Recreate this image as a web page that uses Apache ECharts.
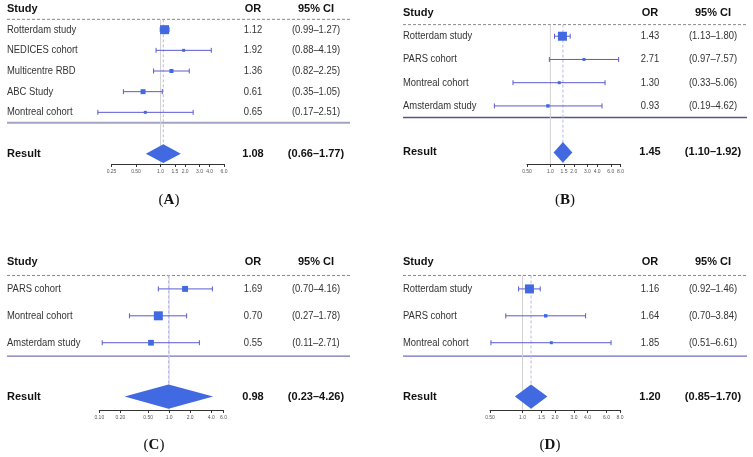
<!DOCTYPE html>
<html><head><meta charset="utf-8">
<script src="https://cdn.jsdelivr.net/npm/echarts@6/dist/echarts.min.js"></script>
<style>html,body{margin:0;padding:0;background:#fff}#c{width:753px;height:457px}</style>
</head><body><div id="c"></div>
<script>
// ---- Panel A ----
const studiesA = ['Rotterdam study','NEDICES cohort','Multicentre RBD','ABC Study','Montreal cohort'];
const orA = [1.12, 1.92, 1.36, 0.61, 0.65];
const lowA = [0.99, 0.88, 0.82, 0.35, 0.17];
const highA = [1.27, 4.19, 2.25, 1.05, 2.51];
const weightA = [1, 0.33, 0.45, 0.55, 0.33];
const pooledA = [1.08, 0.66, 1.77];
const ticksA = [0.25, 0.5, 1, 1.5, 2, 3, 4, 6];
const tickLabelsA = ['0.25','0.50','1.0','1.5','2.0','3.0','4.0','6.0'];
// ---- Panel B ----
const studiesB = ['Rotterdam study','PARS cohort','Montreal cohort','Amsterdam study'];
const orB = [1.43, 2.71, 1.30, 0.93];
const lowB = [1.13, 0.97, 0.33, 0.19];
const highB = [1.80, 7.57, 5.06, 4.62];
const weightB = [1, 0.33, 0.33, 0.38];
const pooledB = [1.45, 1.10, 1.92];
const ticksB = [0.5, 1, 1.5, 2, 3, 4, 6, 8];
const tickLabelsB = ['0.50','1.0','1.5','2.0','3.0','4.0','6.0','8.0'];
// ---- Panel C ----
const studiesC = ['PARS cohort','Montreal cohort','Amsterdam study'];
const orC = [1.69, 0.70, 0.55];
const lowC = [0.70, 0.27, 0.11];
const highC = [4.16, 1.78, 2.71];
const weightC = [0.66, 1, 0.64];
const pooledC = [0.98, 0.23, 4.26];
const ticksC = [0.1, 0.2, 0.5, 1, 2, 4, 6];
const tickLabelsC = ['0.10','0.20','0.50','1.0','2.0','4.0','6.0'];
// ---- Panel D ----
const studiesD = ['Rotterdam study','PARS cohort','Montreal cohort'];
const orD = [1.16, 1.64, 1.85];
const lowD = [0.92, 0.70, 0.51];
const highD = [1.46, 3.84, 6.61];
const weightD = [1, 0.38, 0.33];
const pooledD = [1.20, 0.85, 1.70];
const ticksD = [0.5, 1, 1.5, 2, 3, 4, 6, 8];
const tickLabelsD = ['0.50','1.0','1.5','2.0','3.0','4.0','6.0','8.0'];

const panelLabels = ['A','B','C','D'];

const panels = [
  {studies:studiesA, or:orA, low:lowA, high:highA, w:weightA, pooled:pooledA, ticks:ticksA, tl:tickLabelsA,
   textL:7, orX:253, ciX:316, lineR:350, axL:111.5, axR:224, top:9, axY:164, labX:169, labY:200, bl:{c:'#a3a3c4', w:2}},
  {studies:studiesB, or:orB, low:lowB, high:highB, w:weightB, pooled:pooledB, ticks:ticksB, tl:tickLabelsB,
   textL:403, orX:650, ciX:713, lineR:747, axL:527, axR:620.5, top:13, axY:164, labX:565, labY:200, bl:{c:'#55558a', w:1.5}},
  {studies:studiesC, or:orC, low:lowC, high:highC, w:weightC, pooled:pooledC, ticks:ticksC, tl:tickLabelsC,
   textL:7, orX:253, ciX:316, lineR:350, axL:99.3, axR:223.5, top:262, axY:410, labX:154, labY:445, bl:{c:'#7272b4', w:1.3}},
  {studies:studiesD, or:orD, low:lowD, high:highD, w:weightD, pooled:pooledD, ticks:ticksD, tl:tickLabelsD,
   textL:403, orX:650, ciX:713, lineR:747, axL:490, axR:620, top:262, axY:410, labX:550, labY:445, bl:{c:'#6c6cc8', w:1.3}}
];

const BLUE = '#4169E1';
const CI_COLOR = '#5a5ad2';
const chart = echarts.init(document.getElementById('c'), null, {renderer:'canvas'});

const grids = [], xAxes = [], yAxes = [], series = [];
panels.forEach((p, i) => {
  const n = p.studies.length;
  const yMax = n + 1.5;
  grids.push({left:p.axL, top:p.top, width:p.axR - p.axL, height:p.axY - p.top, outerBoundsMode:'none', containLabel:false});
  const near = v => { let b = 0, d = Infinity; p.ticks.forEach((t, k) => { const dd = Math.abs(Math.log(t) - Math.log(v)); if (dd < d) { d = dd; b = k; } }); return p.tl[b]; };
  xAxes.push({type:'log', logBase:10, gridIndex:i, position:'bottom', min:p.ticks[0], max:p.ticks[p.ticks.length-1],
    axisLine:{show:true, onZero:false, lineStyle:{color:'#333', width:1}},
    axisTick:{show:true, length:3, customValues:p.ticks, lineStyle:{color:'#333'}},
    axisLabel:{show:true, customValues:p.ticks, formatter:near, fontSize:5, color:'#555', margin:5, fontFamily:'Liberation Sans'},
    splitLine:{show:false}, minorTick:{show:false}});
  yAxes.push({type:'value', gridIndex:i, inverse:true, min:-1, max:yMax, show:false});
  series.push({type:'line', xAxisIndex:i, yAxisIndex:i, silent:true, symbol:'none', z:1,
    lineStyle:{color:'#d2d2d2', width:1}, data:[[1, -0.5], [1, yMax]]});
  series.push({type:'line', xAxisIndex:i, yAxisIndex:i, silent:true, symbol:'none', z:1,
    lineStyle:{color:'#b9b9e6', width:1, type:[3,2]}, data:[[p.pooled[0], -0.5], [p.pooled[0], yMax]]});
  series.push({type:'custom', xAxisIndex:i, yAxisIndex:i, silent:true, z:3,
    data:p.studies.map((s, k) => [p.low[k], p.high[k], p.or[k], k, p.w[k]]),
    renderItem:(params, api) => {
      const y = api.value(3);
      const a = api.coord([api.value(0), y]);
      const b = api.coord([api.value(1), y]);
      const m = api.coord([api.value(2), y]);
      const s = 9 * api.value(4);
      const cap = 2.5;
      return {type:'group', children:[
        {type:'line', shape:{x1:a[0], y1:a[1], x2:b[0], y2:b[1]}, style:{stroke:CI_COLOR, lineWidth:1}},
        {type:'line', shape:{x1:a[0], y1:a[1]-cap, x2:a[0], y2:a[1]+cap}, style:{stroke:CI_COLOR, lineWidth:1}},
        {type:'line', shape:{x1:b[0], y1:b[1]-cap, x2:b[0], y2:b[1]+cap}, style:{stroke:CI_COLOR, lineWidth:1}},
        {type:'rect', shape:{x:m[0]-s/2, y:m[1]-s/2, width:s, height:s}, style:{fill:BLUE}}
      ]};
    }});
  series.push({type:'custom', xAxisIndex:i, yAxisIndex:i, silent:true, z:3,
    data:[[p.pooled[1], p.pooled[2], p.pooled[0], n + 1]],
    renderItem:(params, api) => {
      const y = api.value(3);
      const a = api.coord([api.value(0), y]);
      const b = api.coord([api.value(1), y]);
      const m = api.coord([api.value(2), y]);
      const t = api.coord([api.value(2), y - 0.45]);
      const h = m[1] - t[1];
      return {type:'polygon', shape:{points:[[a[0], m[1]], [m[0], m[1]-h], [b[0], m[1]], [m[0], m[1]+h]]}, style:{fill:BLUE}};
    }});
});

chart.setOption({animation:false, backgroundColor:'#fff', grid:grids, xAxis:xAxes, yAxis:yAxes, series:series});

// ---- text & rule lines (positioned through the axes) ----
const gfx = [];
function txt(x, y, text, o) {
  gfx.push({type:'text', x:x, y:y, scaleX:o.sx || 1, silent:true, z:10,
    style:{x:0, y:0, text:text, font:(o.bold ? 'bold ' : '') + (o.size || 10.6) + 'px "Liberation Sans", Arial, sans-serif',
      fill:o.color || '#333', textAlign:o.align || 'left', textVerticalAlign:'middle', align:o.align || 'left', verticalAlign:'middle'}});
}
const fmt = v => v.toFixed(2);
panels.forEach((p, i) => {
  const n = p.studies.length;
  const Y = r => chart.convertToPixel({gridIndex:i}, [1, r])[1];
  // header
  txt(p.textL, Y(-1), 'Study', {bold:true, size:11, color:'#111'});
  txt(p.orX, Y(-1), 'OR', {bold:true, size:11, color:'#111', align:'center'});
  txt(p.ciX, Y(-1), '95% CI', {bold:true, size:11, color:'#111', align:'center'});
  gfx.push({type:'line', silent:true, shape:{x1:p.textL, y1:Y(-0.5), x2:p.lineR, y2:Y(-0.5)}, style:{stroke:'#888', lineWidth:1, lineDash:[3,2]}});
  p.studies.forEach((s, k) => {
    txt(p.textL, Y(k), s, {sx:0.89});
    txt(p.orX, Y(k), fmt(p.or[k]), {sx:0.89, align:'center'});
    txt(p.ciX, Y(k), '(' + fmt(p.low[k]) + '\u2013' + fmt(p.high[k]) + ')', {sx:0.89, align:'center'});
  });
  gfx.push({type:'line', silent:true, shape:{x1:p.textL, y1:Y(n-0.5), x2:p.lineR, y2:Y(n-0.5)}, style:{stroke:p.bl.c, lineWidth:p.bl.w}});
  txt(p.textL, Y(n+1), 'Result', {bold:true, size:11, color:'#111'});
  txt(p.orX, Y(n+1), fmt(p.pooled[0]), {bold:true, size:11, color:'#111', align:'center'});
  txt(p.ciX, Y(n+1), '(' + fmt(p.pooled[1]) + '\u2013' + fmt(p.pooled[2]) + ')', {bold:true, size:11, color:'#111', align:'center'});
  gfx.push({type:'text', x:p.labX, y:p.labY, silent:true,
    style:{x:0, y:0, text:'{p|(}{b|' + panelLabels[i] + '}{p|)}', textAlign:'center', textVerticalAlign:'middle', align:'center', verticalAlign:'middle',
      rich:{p:{fontFamily:'"Liberation Serif", serif', fontSize:15, fill:'#111', color:'#111'}, b:{fontFamily:'"Liberation Serif", serif', fontSize:15, fontWeight:'bold', fill:'#111', color:'#111'}}}});
});
chart.setOption({graphic:{elements:gfx}});
</script></body></html>
